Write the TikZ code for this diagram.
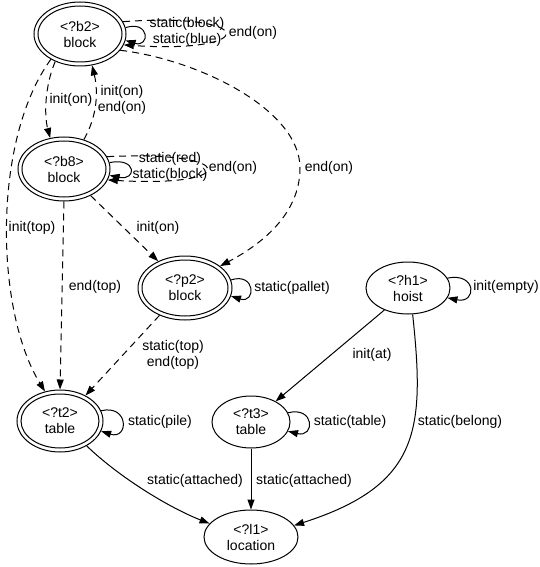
\documentclass[tikz,border=0pt]{standalone}
\usepackage{fontspec}
\setmainfont{Liberation Sans}
\usetikzlibrary{arrows.meta,shapes.geometric}
\begin{document}
\begin{tikzpicture}[x=1pt,y=-1pt,
  every node/.style={font=\fontsize{14}{16}\selectfont},
  st/.style={ellipse, draw, line width=1pt, inner sep=0pt, align=center},
  inner/.style={line width=1pt},
  lbl/.style={align=center, inner sep=0pt},
  e/.style={line width=1pt, -{Triangle[length=10pt,width=7pt]}},
  d/.style={e, dash pattern=on 7pt off 5pt}]
\useasboundingbox (0,0) rectangle (540,567);
% states
\node[st, minimum width=92pt, minimum height=64pt] (b2) at (80,34) {<?b2>\\block};
\node[st, minimum width=92pt, minimum height=64pt] (b8) at (64,169) {<?b8>\\block};
\node[st, minimum width=94pt, minimum height=64pt] (p2) at (185,288) {<?p2>\\block};
\node[st, minimum width=86pt, minimum height=62pt] (t2) at (60,421) {<?t2>\\table};
\node[st, minimum width=78pt, minimum height=52pt] (t3) at (251,422) {<?t3>\\table};
\node[st, minimum width=84pt, minimum height=52pt] (h1) at (408,288) {<?h1>\\hoist};
\node[st, minimum width=94pt, minimum height=54pt] (l1) at (251,537) {<?l1>\\location};
\draw[inner] (b2.center) ellipse [x radius=42pt, y radius=28pt];
\draw[inner] (b8.center) ellipse [x radius=42pt, y radius=28pt];
\draw[inner] (p2.center) ellipse [x radius=43pt, y radius=28pt];
\draw[inner] (t2.center) ellipse [x radius=39pt, y radius=27pt];
% dashed edges
\draw[d] (b2.228) .. controls (45,85) and (44,115) .. (b8.114);
\draw[d] (b8.56) .. controls (98,115) and (98,90) .. (b2.291);
\draw[d] (b2.221) .. controls (-8,140) and (-5,310) .. (t2.117);
\draw[d] (b2.338) .. controls (200,60) and (300,110) .. (300,168) .. controls (300,215) and (260,245) .. (p2.32);
\draw[d] (b8.315) -- (p2.135);
\draw[d] (b8.270) -- (t2.90);
\draw[d] (p2.227) -- (t2.45);
\draw[d] (b2.16) .. controls (259,12) and (259,54) .. (b2.346);
\draw[d] (b8.16) .. controls (240,150) and (240,188) .. (b8.346);
% solid edges
\draw[e] (b2.8) .. controls (150,20) and (150,48) .. (b2.352);
\draw[e] (b8.8) .. controls (137,157) and (137,181) .. (b8.352);
\draw[e] (p2.10) .. controls (256,272) and (256,304) .. (p2.350);
\draw[e] (t2.14) .. controls (129,404) and (129,440) .. (t2.346);
\draw[e] (t3.14) .. controls (315,406) and (315,438) .. (t3.346);
\draw[e] (h1.14) .. controls (477,272) and (477,304) .. (h1.346);
\draw[e] (t2.317) .. controls (120,478) and (170,508) .. (l1.162);
\draw[e] (t3.270) -- (l1.90);
\draw[e] (h1.223) -- (t3.40);
\draw[e] (h1.280) .. controls (425,430) and (420,485) .. (l1.15);
% labels
\node[lbl] (L1) at (187,32) {static(block)\\static(blue)};
\node[lbl] (L2) at (253,33) {end(on)};
\node[lbl] (L3) at (170,167) {static(red)\\static(block)};
\node[lbl] (L4) at (233,168) {end(on)};
\node[lbl] (L5) at (71,100) {init(on)};
\node[lbl] (L6) at (122,100) {init(on)\\end(on)};
\node[lbl] (L7) at (32,228) {init(top)};
\node[lbl] (L8) at (329,168) {end(on)};
\node[lbl] (L9) at (158,228) {init(on)};
\node[lbl] (L10) at (95,287) {end(top)};
\node[lbl] (L11) at (173,355) {static(top)\\end(top)};
\node[lbl] (L12) at (292,288) {static(pallet)};
\node[lbl] (L13) at (506,287) {init(empty)};
\node[lbl] (L14) at (372,355) {init(at)};
\node[lbl] (L15) at (160,422) {static(pile)};
\node[lbl] (L16) at (350,422) {static(table)};
\node[lbl] (L17) at (460,422) {static(belong)};
\node[lbl] (L18) at (195,481) {static(attached)};
\node[lbl] (L19) at (304,481) {static(attached)};
\end{tikzpicture}
\end{document}
